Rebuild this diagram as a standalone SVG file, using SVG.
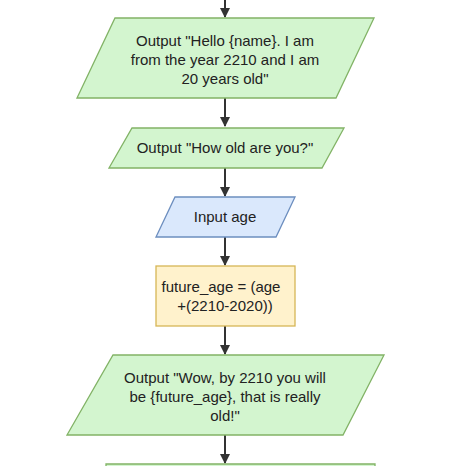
<svg xmlns="http://www.w3.org/2000/svg" width="474" height="466" viewBox="0 0 474 466">
<defs>
<style>
.out{fill:#d3f5cf;stroke:#82b366;stroke-width:1.3}
.inp{fill:#dae8fc;stroke:#6c8ebf;stroke-width:1.3}
.proc{fill:#fff2cc;stroke:#d6b656;stroke-width:1.3}
.t{font-family:"Liberation Sans",Arial,sans-serif;font-size:15px;fill:#222;text-anchor:middle}
.c{stroke:#333;stroke-width:2;fill:none;marker-end:url(#ah)}
</style>
<marker id="ah" viewBox="0 0 10 10" refX="9" refY="5" markerWidth="5" markerHeight="5" orient="auto" markerUnits="strokeWidth">
<path d="M0,0 L10,5 L0,10 z" fill="#333"/>
</marker>
</defs>
<rect width="474" height="466" fill="#fff"/>
<g id="connectors">
<path class="c" d="M225,0 V17"/>
<path class="c" d="M225,98 V126"/>
<path class="c" d="M225,168 V196"/>
<path class="c" d="M225,237 V265"/>
<path class="c" d="M225,326 V354"/>
<path class="c" d="M225,435 V463"/>
</g>
<g id="node1">
<polygon class="out" points="115,18 374,18 336,98 77,98"/>
<text class="t" x="225" y="46">Output "Hello {name}. I am</text>
<text class="t" x="225" y="65">from the year 2210 and I am</text>
<text class="t" x="225" y="84">20 years old"</text>
</g>
<g id="node2">
<polygon class="out" points="132,128 344,128 322,168 109,168"/>
<text class="t" x="225" y="153">Output "How old are you?"</text>
</g>
<g id="node3">
<polygon class="inp" points="175,197 295,197 276,237 156,237"/>
<text class="t" x="225" y="222">Input age</text>
</g>
<g id="node4">
<rect class="proc" x="156" y="266" width="139" height="60"/>
<text class="t" x="221" y="292">future_age = (age</text>
<text class="t" x="225" y="311">+(2210-2020))</text>
</g>
<g id="node5">
<polygon class="out" points="113,355 384,355 343,435 67,435"/>
<text class="t" x="225" y="383">Output "Wow, by 2210 you will</text>
<text class="t" x="225" y="402">be {future_age}, that is really</text>
<text class="t" x="225" y="421">old!"</text>
</g>
<g id="node6">
<polygon class="out" points="106,464 375,464 375,470 106,470"/>
</g>
</svg>
